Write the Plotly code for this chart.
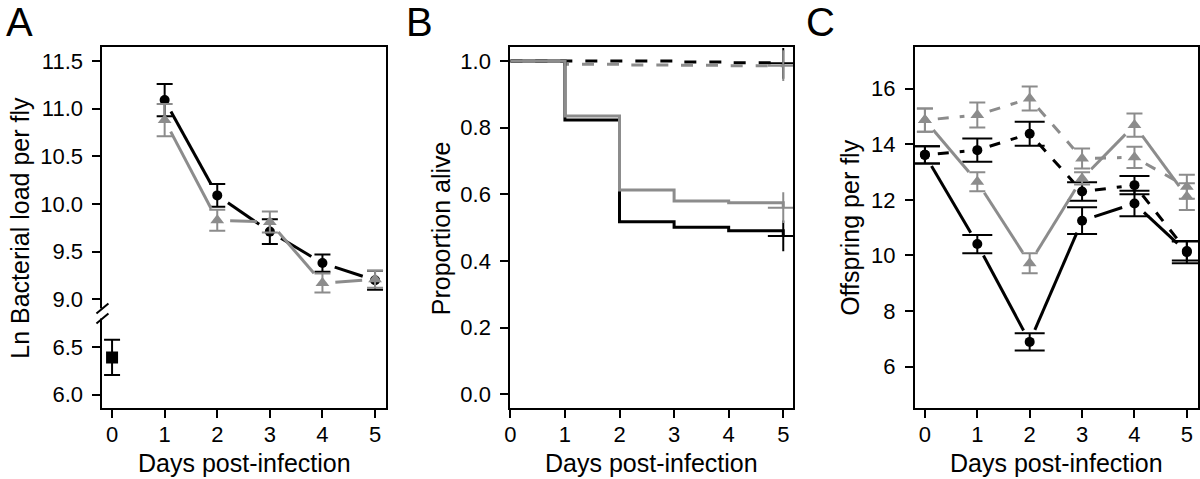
import plotly.graph_objects as go

W, H = 1200, 479
GREY = "#8c8c8c"
BLACK = "#000000"
FONT = "Liberation Sans, Arial, Helvetica, sans-serif"

# ---------------- Panel A : bacterial load ----------------
a_days = [1, 2, 3, 4, 5]
a_black = [11.09, 10.09, 9.71, 9.38, 9.20]
a_black_se = [0.17, 0.12, 0.13, 0.09, 0.10]
a_grey = [10.88, 9.83, 9.81, 9.17, 9.21]
a_grey_se = [0.17, 0.11, 0.11, 0.10, 0.09]
a_day0 = [0]
a_day0_val = [6.39]
a_day0_se = [0.185]
a_yticks = [6.0, 6.5, 9.0, 9.5, 10.0, 10.5, 11.0, 11.5]
a_break_at = 8.0      # values below this sit under the axis break
a_break_shift = 2.0   # how far they are lifted on the broken axis

# ---------------- Panel B : survival ----------------
b_days = [0, 1, 2, 3, 4, 5]
b_black_inf = [1.0, 0.823, 0.518, 0.501, 0.491, 0.475]
b_grey_inf = [1.0, 0.835, 0.613, 0.580, 0.575, 0.560]
b_black_ctl = [1.0, 1.0, 1.0, 0.997, 0.995, 0.993]
b_grey_ctl = [1.0, 0.990, 0.988, 0.987, 0.986, 0.986]
b_yticks = [0.0, 0.2, 0.4, 0.6, 0.8, 1.0]

# ---------------- Panel C : offspring ----------------
c_days = [0, 1, 2, 3, 4, 5]
c_black_solid = [13.62, 10.41, 6.89, 11.25, 11.87, 10.12]
c_black_solid_se = [0.31, 0.33, 0.31, 0.48, 0.46, 0.40]
c_black_dash = [13.62, 13.79, 14.38, 12.30, 12.53, 10.16]
c_black_dash_se = [0.31, 0.42, 0.43, 0.33, 0.33, 0.34]
c_grey_solid = [14.87, 12.65, 9.72, 12.77, 14.69, 12.12]
c_grey_solid_se = [0.42, 0.34, 0.36, 0.22, 0.42, 0.48]
c_grey_dash = [14.87, 15.05, 15.65, 13.49, 13.53, 12.47]
c_grey_dash_se = [0.42, 0.45, 0.43, 0.36, 0.38, 0.43]
c_yticks = [6, 8, 10, 12, 14, 16]

x_ticks = [0, 1, 2, 3, 4, 5]

# ---------------- layout geometry ----------------
dom_y = [1 - 408.3 / H, 1 - 47.3 / H]
dom_xa = [97 / W, 382 / W]
dom_xb = [507.3 / W, 791.7 / W]
dom_xc = [914.3 / W, 1199 / W]
rng_xa = [-0.183, 5.204]
rng_ya = [7.856, 11.644]
rng_xb = [0.0, 5.18]
rng_yb = [-0.042, 1.041]
rng_xc = [-0.19, 5.213]
rng_yc = [4.5, 17.49]


def scale(dom, rng, size):
    return (dom[1] - dom[0]) * size / (rng[1] - rng[0])


def gapped(xs, ys, sx, sy, gap):
    gx, gy = [], []
    for i in range(len(xs) - 1):
        x1, y1, x2, y2 = xs[i], ys[i], xs[i + 1], ys[i + 1]
        dx = (x2 - x1) * sx
        dy = (y2 - y1) * sy
        L = (dx * dx + dy * dy) ** 0.5
        if L <= 2 * gap:
            continue
        f = gap / L
        gx += [x1 + f * (x2 - x1), x2 - f * (x2 - x1), None]
        gy += [y1 + f * (y2 - y1), y2 - f * (y2 - y1), None]
    return gx, gy


def amap(v):
    return v + a_break_shift if v < a_break_at else v


fig = go.Figure()
GAP = 13

# ---- Panel A traces ----
sxa, sya = scale(dom_xa, rng_xa, W), scale(dom_y, rng_ya, H)
for vals, se, col, sym, msz in [(a_black, a_black_se, BLACK, "circle", 10),
                                (a_grey, a_grey_se, GREY, "triangle-up", 12)]:
    gx, gy = gapped(a_days, vals, sxa, sya, GAP)
    fig.add_trace(go.Scatter(x=gx, y=gy, mode="lines", xaxis="x", yaxis="y",
                             line=dict(color=col, width=3), showlegend=False, hoverinfo="skip"))
    fig.add_trace(go.Scatter(x=a_days, y=vals, mode="markers", xaxis="x", yaxis="y",
                             marker=dict(color=col, size=msz, symbol=sym),
                             error_y=dict(type="data", array=se, color=col, thickness=2, width=8),
                             showlegend=False))
fig.add_trace(go.Scatter(x=a_day0, y=[amap(v) for v in a_day0_val], mode="markers",
                         xaxis="x", yaxis="y",
                         marker=dict(color=BLACK, size=12, symbol="square"),
                         error_y=dict(type="data", array=a_day0_se, color=BLACK, thickness=2, width=8),
                         showlegend=False))

# ---- Panel B traces ----
for vals, col, dash in [(b_black_ctl, BLACK, "12px,13px"), (b_grey_ctl, GREY, "12px,13px"),
                        (b_black_inf, BLACK, "solid"), (b_grey_inf, GREY, "solid")]:
    fig.add_trace(go.Scatter(x=b_days, y=vals, mode="lines", xaxis="x2", yaxis="y2",
                             line=dict(color=col, width=3, dash=dash, shape="hv"),
                             showlegend=False))
    fig.add_trace(go.Scatter(x=b_days[-1:], y=vals[-1:], mode="markers", xaxis="x2", yaxis="y2",
                             marker=dict(symbol="cross-thin", size=22,
                                         line=dict(color=col, width=2)),
                             showlegend=False))

# ---- Panel C traces ----
sxc, syc = scale(dom_xc, rng_xc, W), scale(dom_y, rng_yc, H)
for vals, se, col, sym, msz, dash, capw in [
        (c_black_solid, c_black_solid_se, BLACK, "circle", 10, "solid", 15),
        (c_black_dash, c_black_dash_se, BLACK, "circle", 10, "11px,11px", 15),
        (c_grey_solid, c_grey_solid_se, GREY, "triangle-up", 12, "solid", 8),
        (c_grey_dash, c_grey_dash_se, GREY, "triangle-up", 12, "11px,11px", 8)]:
    gx, gy = gapped(c_days, vals, sxc, syc, GAP)
    fig.add_trace(go.Scatter(x=gx, y=gy, mode="lines", xaxis="x3", yaxis="y3",
                             line=dict(color=col, width=3, dash=dash),
                             showlegend=False, hoverinfo="skip"))
    fig.add_trace(go.Scatter(x=c_days, y=vals, mode="markers", xaxis="x3", yaxis="y3",
                             marker=dict(color=col, size=msz, symbol=sym),
                             error_y=dict(type="data", array=se, color=col, thickness=2, width=capw),
                             showlegend=False))

tickfont = dict(family=FONT, size=22, color=BLACK)
axis_common = dict(showline=True, linecolor=BLACK, linewidth=2, mirror=True,
                   ticks="outside", ticklen=8, tickwidth=1.5, tickcolor=BLACK,
                   showgrid=False, zeroline=False, tickfont=tickfont, fixedrange=True)
xax = dict(axis_common, ticklabelstandoff=-3)
yax = dict(axis_common, ticklabelstandoff=5)

fig.update_layout(
    width=W, height=H,
    margin=dict(l=0, r=0, t=0, b=0),
    paper_bgcolor="white", plot_bgcolor="white",
    font=dict(family=FONT, color=BLACK),
    xaxis=dict(domain=dom_xa, range=rng_xa, anchor="y", tickvals=x_ticks, **xax),
    yaxis=dict(domain=dom_y, range=rng_ya, anchor="x",
               tickvals=[amap(v) for v in a_yticks],
               ticktext=[f"{v:.1f}" for v in a_yticks], **yax),
    xaxis2=dict(domain=dom_xb, range=rng_xb, anchor="y2", tickvals=x_ticks, **xax),
    yaxis2=dict(domain=dom_y, range=rng_yb, anchor="x2", tickvals=b_yticks,
                ticktext=[f"{v:.1f}" for v in b_yticks], **yax),
    xaxis3=dict(domain=dom_xc, range=rng_xc, anchor="y3", tickvals=x_ticks, **xax),
    yaxis3=dict(domain=dom_y, range=rng_yc, anchor="x3", tickvals=c_yticks, **yax),
)

# axis break on panel A
brk_y = 8.85
fig.add_shape(type="rect", xref="x domain", yref="y", xsizemode="pixel", ysizemode="pixel",
              xanchor=0, yanchor=brk_y, x0=-3, x1=3, y0=-5, y1=5,
              fillcolor="white", line=dict(width=0), layer="above")
for off in (-5, 5):
    fig.add_shape(type="line", xref="x domain", yref="y", xsizemode="pixel", ysizemode="pixel",
                  xanchor=0, yanchor=brk_y, x0=-6, x1=6, y0=off - 5, y1=off + 5,
                  line=dict(color=BLACK, width=2), layer="above")

ann = []
for txt, xc in [("A", 14), ("B", 416), ("C", 819)]:
    ann.append(dict(text=txt, x=xc / W, y=1 - 22 / H, xref="paper", yref="paper",
                    xanchor="center", yanchor="middle", showarrow=False,
                    font=dict(family=FONT, size=40, color=BLACK)))
for xc in [(dom_xa[0] + dom_xa[1]) / 2, (dom_xb[0] + dom_xb[1]) / 2, (dom_xc[0] + dom_xc[1]) / 2]:
    ann.append(dict(text="Days post-infection", x=xc, y=1 - 463 / H, xref="paper", yref="paper",
                    xanchor="center", yanchor="middle", showarrow=False,
                    font=dict(family=FONT, size=25, color=BLACK)))
ymid = (dom_y[0] + dom_y[1]) / 2
for txt, xc in [("Ln Bacterial load per fly", 14), ("Proportion alive", 437), ("Offspring per fly", 849)]:
    ann.append(dict(text=txt, x=xc / W, y=ymid, xref="paper", yref="paper",
                    xanchor="center", yanchor="middle", textangle=-90, showarrow=False,
                    font=dict(family=FONT, size=25, color=BLACK)))
fig.update_layout(annotations=ann)

fig.write_html("out.html", config={"displayModeBar": False},
               post_script="document.body.style.margin='0';document.body.style.overflow='hidden';")
